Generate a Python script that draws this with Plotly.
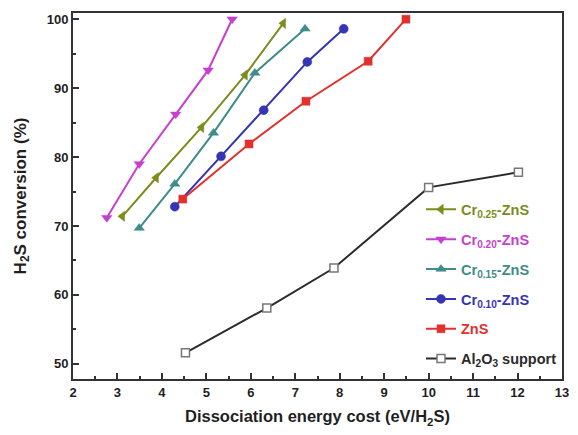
import plotly.graph_objects as go

# Dissociation energy cost (eV/H2S) and H2S conversion (%) per catalyst
cr025_x = [3.11, 3.87, 4.89, 5.87, 6.73]
cr025_y = [71.4, 77.0, 84.3, 91.9, 99.4]

cr020_x = [2.76, 3.49, 4.31, 5.04, 5.58]
cr020_y = [71.2, 79.0, 86.2, 92.6, 100.0]

cr015_x = [3.49, 4.29, 5.16, 6.09, 7.22]
cr015_y = [69.7, 76.1, 83.5, 92.2, 98.6]

cr010_x = [4.29, 5.33, 6.29, 7.27, 8.09]
cr010_y = [72.8, 80.1, 86.8, 93.8, 98.6]

zns_x = [4.47, 5.96, 7.24, 8.64, 9.49]
zns_y = [73.9, 81.9, 88.1, 93.9, 100.0]

al2o3_x = [4.53, 6.36, 7.87, 10.0, 12.02]
al2o3_y = [51.6, 58.1, 63.9, 75.6, 77.8]

# name, x, y, colour, marker symbol, marker size, marker fill, marker edge
series = [
    ("Cr<sub>0.25</sub>-ZnS", cr025_x, cr025_y, "#7d8c1c", "triangle-left", 9, "#7d8c1c", "#7d8c1c"),
    ("Cr<sub>0.20</sub>-ZnS", cr020_x, cr020_y, "#c63fcf", "triangle-down", 9, "#c63fcf", "#c63fcf"),
    ("Cr<sub>0.15</sub>-ZnS", cr015_x, cr015_y, "#3f8c88", "triangle-up", 9, "#3f8c88", "#3f8c88"),
    ("Cr<sub>0.10</sub>-ZnS", cr010_x, cr010_y, "#3434b4", "circle", 9, "#3434b4", "#3434b4"),
    ("ZnS", zns_x, zns_y, "#e2302e", "square", 8, "#e2302e", "#e2302e"),
    ("Al<sub>2</sub>O<sub>3</sub> support", al2o3_x, al2o3_y, "#2b2b2b", "square", 8, "#ffffff", "#777777"),
]

fig = go.Figure()
for i, (name, xs, ys, color, symbol, size, fill, edge) in enumerate(series):
    fig.add_trace(go.Scatter(
        x=xs, y=ys, mode="lines+markers",
        name=f'<b><span style="color:{color}">{name}</span></b>',
        legendgroup=f"g{i}",
        line=dict(color=color, width=2),
        marker=dict(symbol=symbol, size=size, color=fill,
                    line=dict(color=edge, width=1.5 if fill == "#ffffff" else 0.5)),
    ))

FONT = "Liberation Sans, Arial, sans-serif"
tick_font = dict(family=FONT, size=13, color="#1f1f1f", weight="bold")
title_font_x = dict(family=FONT, size=16.5, color="#1f1f1f", weight="bold")
title_font_y = dict(family=FONT, size=17, color="#1f1f1f", weight="bold")

fig.update_layout(
    width=578, height=435,
    margin=dict(l=73, r=9, t=13, b=56),
    paper_bgcolor="white", plot_bgcolor="white",
    font=dict(family=FONT, color="#1f1f1f"),
    legend=dict(
        x=1.0, y=0.507, xanchor="right", yanchor="top",
        bgcolor="rgba(0,0,0,0)",
        font=dict(size=14.5, family=FONT),
        traceorder="grouped", tracegroupgap=8,
        itemwidth=30,
    ),
    xaxis=dict(
        range=[2, 13], dtick=1, tick0=2,
        showgrid=False, zeroline=False,
        showline=True, linecolor="#333333", linewidth=2, mirror=True,
        ticks="inside", ticklen=6, tickwidth=1.5, tickcolor="#333333",
        minor=dict(ticks="inside", ticklen=3, dtick=0.5, tickcolor="#333333", tickwidth=1.5),
        tickfont=tick_font,
        title=dict(text="Dissociation energy cost (eV/H<sub>2</sub>S)", font=title_font_x, standoff=12),
    ),
    yaxis=dict(
        range=[47.8, 100.9], dtick=10, tick0=50,
        showgrid=False, zeroline=False,
        showline=True, linecolor="#333333", linewidth=2, mirror=True,
        ticks="inside", ticklen=6, tickwidth=1.5, tickcolor="#333333",
        minor=dict(ticks="inside", ticklen=3, dtick=5, tickcolor="#333333", tickwidth=1.5),
        tickfont=tick_font,
        title=dict(text="H<sub>2</sub>S conversion (%)", font=title_font_y, standoff=16),
    ),
)

fig.write_html("out.html")
